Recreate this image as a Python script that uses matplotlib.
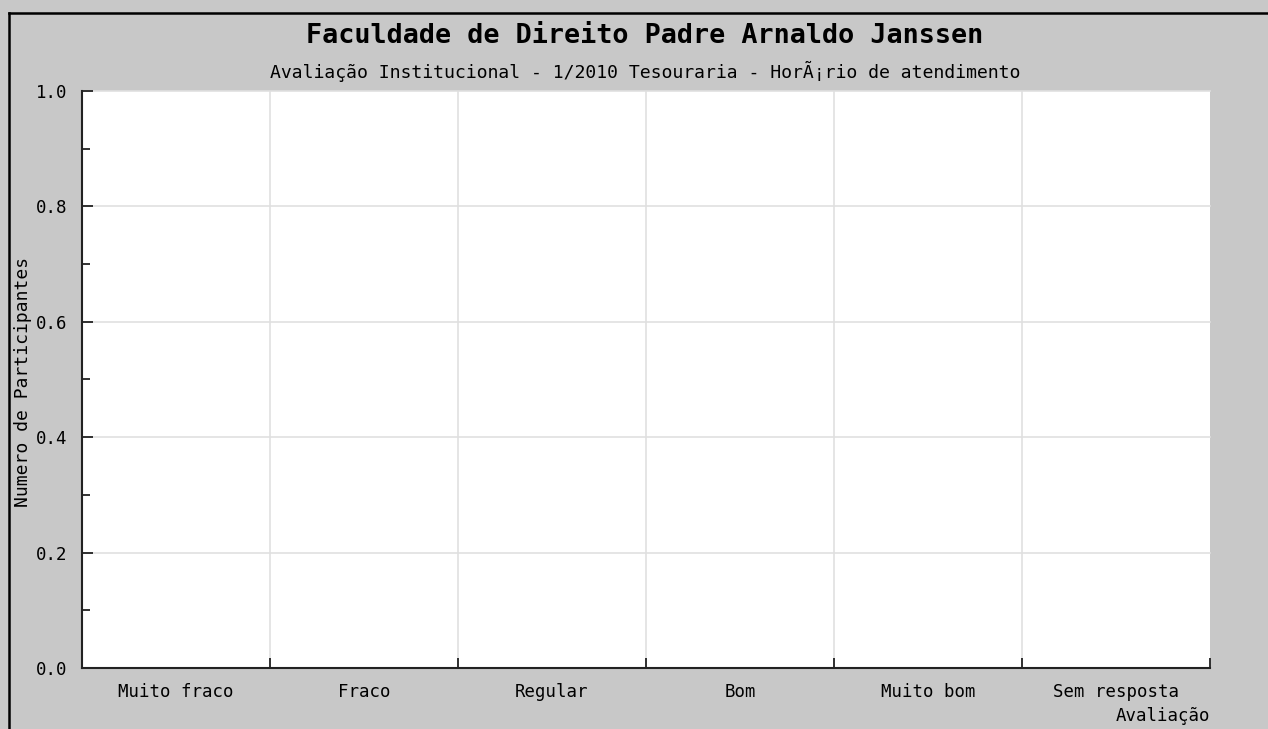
import matplotlib.pyplot as plt
from matplotlib.lines import Line2D
from matplotlib.ticker import MultipleLocator

categorias = ['Muito fraco', 'Fraco', 'Regular', 'Bom', 'Muito bom', 'Sem resposta']
participantes = [0, 0, 0, 0, 0, 0]

titulo = 'Faculdade de Direito Padre Arnaldo Janssen'
subtitulo = 'Avaliação Institucional - 1/2010 Tesouraria - HorÃ¡rio de atendimento'

W, H = 1268, 729
fig = plt.figure(figsize=(W / 100, H / 100), dpi=100, facecolor='#c8c8c8')
# plot area in pixels: x 82..1210, y 91..668
ax = fig.add_axes([82 / W, 1 - 668 / H, (1210 - 82) / W, (668 - 91) / H])
ax.set_facecolor('white')

pos = list(range(len(categorias)))
ax.bar(pos, participantes, width=0.6, color='#4e79a7')
ax.set_xlim(-0.5, len(categorias) - 0.5)
ax.set_ylim(0, 1.0)

mono = 'DejaVu Sans Mono'
fs = 12.5

# x: ticks at category boundaries, labels centered
ax.set_xticks([p + 0.5 for p in pos])
ax.set_xticklabels([])
ax.set_xticks(pos, minor=True)
ax.set_xticklabels(categorias, minor=True, family=mono, fontsize=fs)
ax.tick_params(axis='x', which='major', direction='in', length=7, width=1.3, color='#222222')
ax.tick_params(axis='x', which='minor', length=0, pad=11)

ax.yaxis.set_minor_locator(MultipleLocator(0.1))
ax.set_yticks([0, 0.2, 0.4, 0.6, 0.8, 1.0])
ax.set_yticklabels(['0.0', '0.2', '0.4', '0.6', '0.8', '1.0'], family=mono, fontsize=fs)
ax.tick_params(axis='y', which='major', direction='in', length=8, width=1.3, pad=10.5,
               color='#222222')
ax.tick_params(axis='y', which='minor', direction='in', length=6, width=1.3, color='#222222')

ax.grid(axis='y', which='major', color='#e0e0e0', linewidth=1.2, clip_on=False)
for p in pos[:-1]:
    ax.axvline(p + 0.5, color='#e0e0e0', linewidth=1.2, zorder=0)
ax.set_axisbelow(True)

for s in ['top', 'right']:
    ax.spines[s].set_visible(False)
for s in ['left', 'bottom']:
    ax.spines[s].set_linewidth(1.5)
    ax.spines[s].set_color('#222222')

fig.text(23 / W, 1 - 382 / H, 'Numero de Participantes', rotation=90, family=mono,
         fontsize=13, ha='center', va='center')
fig.text(1210 / W, 1 - 716 / H, 'Avaliação', family=mono, fontsize=fs,
         ha='right', va='center')
fig.text(645 / W, 1 - 36 / H, titulo, family=mono, fontsize=19.3, fontweight='bold',
         ha='center', va='center')
fig.text(645 / W, 1 - 71 / H, subtitulo, family=mono, fontsize=13.1,
         ha='center', va='center')

# outer frame (top and left)
fig.add_artist(Line2D([9 / W, 9 / W], [0, 1 - 12.5 / H], color='black', linewidth=1.8,
                      transform=fig.transFigure))
fig.add_artist(Line2D([9 / W, 1], [1 - 12.5 / H, 1 - 12.5 / H], color='black', linewidth=1.8,
                      transform=fig.transFigure))

plt.savefig('out.png', dpi=100, facecolor=fig.get_facecolor())
